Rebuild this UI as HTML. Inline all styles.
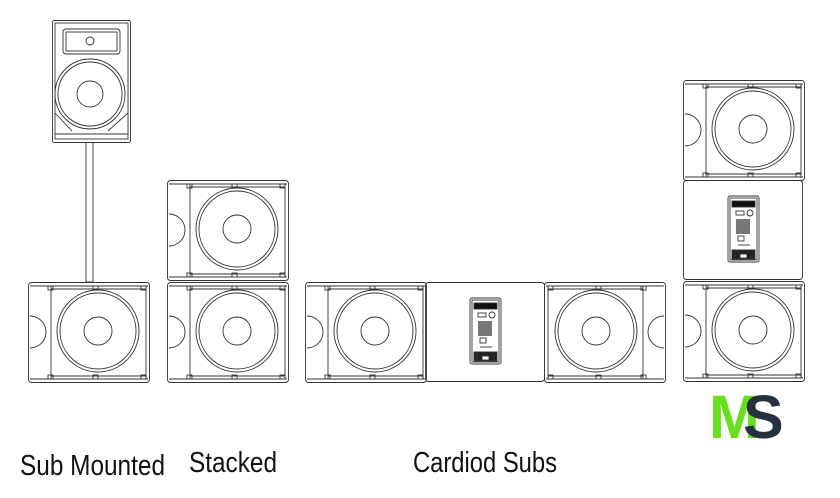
<!DOCTYPE html>
<html><head><meta charset="utf-8"><style>
body{margin:0;background:#fff;width:840px;height:498px;overflow:hidden}
svg{display:block}
</style></head><body>
<svg width="840" height="498" viewBox="0 0 840 498" xmlns="http://www.w3.org/2000/svg">
<defs>
<g id="sub" fill="none" stroke="#333" stroke-width="0.9">
  <rect x="0.5" y="0.5" width="121" height="100" rx="3"/>
  <line x1="2" y1="4" x2="120" y2="4"/>
  <line x1="2" y1="97" x2="120" y2="97"/>
  <line x1="23" y1="4" x2="23" y2="97"/>
  <line x1="118" y1="4" x2="118" y2="97"/>
  <path d="M2 34 A16 16 0 0 1 2 66"/>
  <line x1="23" y1="7" x2="118" y2="7"/>
  <line x1="23" y1="94" x2="118" y2="94"/>
  <rect x="20" y="4" width="5" height="4"/><rect x="65" y="4" width="5" height="4"/><rect x="113" y="4" width="5" height="4"/>
  <rect x="20" y="93" width="5" height="4"/><rect x="65" y="93" width="5" height="4"/><rect x="113" y="93" width="5" height="4"/>
  <circle cx="70" cy="49" r="41"/>
  <circle cx="70" cy="49" r="38"/>
  <circle cx="70" cy="49" r="14"/>
</g>
<g id="rear" fill="none" stroke="#333" stroke-width="0.9">
  <rect x="0.5" y="0.5" width="119" height="99" rx="3"/>
  <rect x="45" y="16" width="31" height="66" rx="2"/>
  <rect x="47" y="18" width="27" height="62"/>
  <rect x="49" y="21" width="23" height="6" fill="#111"/>
  <rect x="53" y="31" width="8" height="4"/><circle cx="67" cy="33" r="3"/>
  <rect x="53" y="39" width="14" height="15" fill="#777" stroke="none"/>
  <rect x="55" y="56" width="6" height="5"/>
  <line x1="55" y1="65" x2="67" y2="65"/>
  <path d="M49 70 H72 V79 H49 Z M52 72 v7 M69 72 v7" fill="#222"/>
  <rect x="57" y="74" width="7" height="4" fill="#fff"/>
</g>
</defs>
<g fill="none" stroke="#333" stroke-width="0.9">
  <rect x="52.5" y="20.5" width="78" height="122" rx="2"/>
  <rect x="55" y="23" width="73" height="116"/>
  <rect x="63" y="29" width="57" height="25" rx="3"/>
  <rect x="66" y="32" width="51" height="19"/>
  <circle cx="90" cy="41" r="4"/>
  <circle cx="90" cy="94" r="35"/><circle cx="90" cy="94" r="32"/><circle cx="90" cy="94" r="13"/>
  <line x1="55" y1="113" x2="72" y2="131"/><line x1="128" y1="113" x2="108" y2="131"/>
  <line x1="55" y1="134" x2="128" y2="134"/>
  <rect x="86" y="142.5" width="7" height="139.5"/>
</g>
<use href="#sub" x="28" y="282"/>
<use href="#sub" x="167" y="180"/>
<use href="#sub" x="167" y="282"/>
<use href="#sub" x="305" y="282"/>
<use href="#rear" x="425" y="282"/>
<use href="#sub" transform="translate(666,282) scale(-1,1)"/>
<use href="#sub" x="683" y="80"/>
<use href="#rear" x="683" y="180"/>
<use href="#sub" x="683" y="281"/>
<g font-family="Liberation Sans, sans-serif" font-size="29" fill="#111">
<text x="20" y="475" textLength="145" lengthAdjust="spacingAndGlyphs">Sub Mounted</text>
<text x="189" y="472" textLength="88" lengthAdjust="spacingAndGlyphs">Stacked</text>
<text x="413" y="472" textLength="144" lengthAdjust="spacingAndGlyphs">Cardiod Subs</text>
</g>
<g font-family="Liberation Sans, sans-serif" font-weight="bold" font-size="61">
<text x="709" y="438" fill="#66e01a">M</text>
<text x="743" y="438" fill="#26303f">S</text>
</g>
</svg>
</body></html>
